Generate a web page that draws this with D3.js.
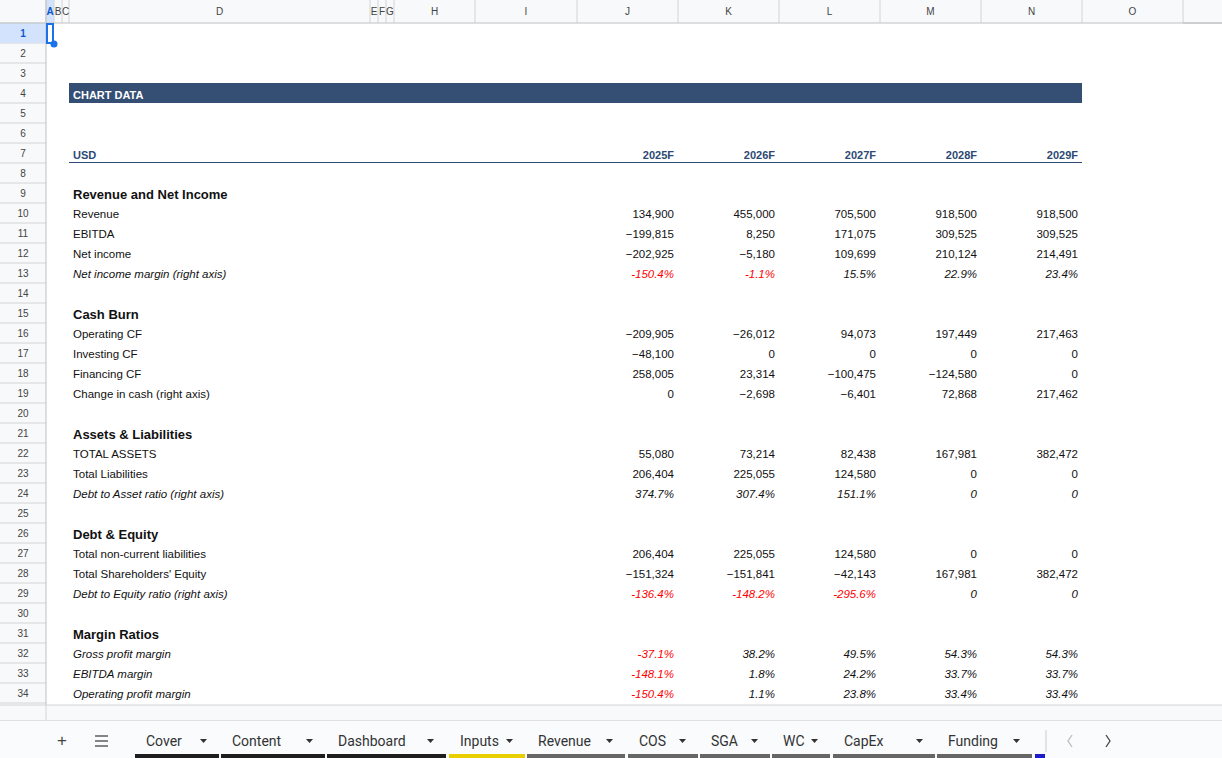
<!DOCTYPE html>
<html><head><meta charset="utf-8">
<script src="https://cdn.jsdelivr.net/npm/d3@7"></script>
<style>body{margin:0;background:#fff;font-family:"Liberation Sans",Arial,sans-serif}</style>
</head><body>
<svg id="s" width="1222" height="758"></svg>
<script>
const years = ["2025F","2026F","2027F","2028F","2029F"];
const colLetters = ["A","B","C","D","E","F","G","H","I","J","K","L","M","N","O"];
const colEdges = [46,54,62,69,370,378,386,394,475,577,678,779,880,981,1082,1183];
// row items: [row, label, values, kind]  kind: h=heading, n=number, p=pct, pi=italic pct
const rows = [
 [9,"Revenue and Net Income",null,"h"],
 [10,"Revenue",[134900,455000,705500,918500,918500],"n"],
 [11,"EBITDA",[-199815,8250,171075,309525,309525],"n"],
 [12,"Net income",[-202925,-5180,109699,210124,214491],"n"],
 [13,"Net income margin (right axis)",[-150.4,-1.1,15.5,22.9,23.4],"pi"],
 [15,"Cash Burn",null,"h"],
 [16,"Operating CF",[-209905,-26012,94073,197449,217463],"n"],
 [17,"Investing CF",[-48100,0,0,0,0],"n"],
 [18,"Financing CF",[258005,23314,-100475,-124580,0],"n"],
 [19,"Change in cash (right axis)",[0,-2698,-6401,72868,217462],"n"],
 [21,"Assets & Liabilities",null,"h"],
 [22,"TOTAL ASSETS",[55080,73214,82438,167981,382472],"n"],
 [23,"Total Liabilities",[206404,225055,124580,0,0],"n"],
 [24,"Debt to Asset ratio (right axis)",[374.7,307.4,151.1,0,0],"pi0"],
 [26,"Debt & Equity",null,"h"],
 [27,"Total non-current liabilities",[206404,225055,124580,0,0],"n"],
 [28,"Total Shareholders' Equity",[-151324,-151841,-42143,167981,382472],"n"],
 [29,"Debt to Equity ratio (right axis)",[-136.4,-148.2,-295.6,0,0],"pi0"],
 [31,"Margin Ratios",null,"h"],
 [32,"Gross profit margin",[-37.1,38.2,49.5,54.3,54.3],"pi"],
 [33,"EBITDA margin",[-148.1,1.8,24.2,33.7,33.7],"pi"],
 [34,"Operating profit margin",[-150.4,1.1,23.8,33.4,33.4],"pi"]
];
const tabs = ["Cover","Content","Dashboard","Inputs","Revenue","COS","SGA","WC","CapEx","Funding"];
const tabColors = ["#1e1e1e","#1e1e1e","#1e1e1e","#e8d000","#666","#666","#666","#666","#666","#666"];

const svg = d3.select("#s");
const y = d3.scaleLinear().domain([1,35]).range([23,703]); // row top
const rowH = 20;
const numFmt = d3.format(",.0f");
const valCols = [9,10,11,12,13];

// column header
svg.append("rect").attr("x",0).attr("y",0).attr("width",1222).attr("height",23).attr("fill","#f8f9fa");
svg.append("rect").attr("x",0).attr("y",0).attr("width",46).attr("height",705).attr("fill","#f8f9fa");
// grid horizontal lines in header column
for(let r=1;r<=35;r++){
  svg.append("line").attr("x1",0).attr("x2",46).attr("y1",y(r)).attr("y2",y(r)).attr("stroke","#d4d4d4");
}
svg.append("rect").attr("x",0).attr("y",y(1)).attr("width",46).attr("height",rowH).attr("fill","#d3e3fd");
svg.append("rect").attr("x",46).attr("y",0).attr("width",8).attr("height",23).attr("fill","#d3e3fd");
colEdges.forEach(x=>svg.append("line").attr("x1",x).attr("x2",x).attr("y1",0).attr("y2",23).attr("stroke","#d4d4d4"));
svg.append("line").attr("x1",1183).attr("x2",1222).attr("y1",23).attr("y2",23).attr("stroke","#c0c0c0");
svg.append("line").attr("x1",0).attr("x2",1222).attr("y1",23).attr("y2",23).attr("stroke","#c0c0c0");
svg.append("line").attr("x1",46).attr("x2",46).attr("y1",0).attr("y2",705).attr("stroke","#c0c0c0");
colLetters.forEach((c,i)=>{
  svg.append("text").attr("x",(colEdges[i]+colEdges[i+1])/2).attr("y",15).attr("text-anchor","middle")
   .attr("font-size",i<7?10:10).attr("font-weight",i==0?"bold":"normal").attr("fill",i==0?"#0b57d0":"#444").text(c);
});
for(let r=1;r<=34;r++){
  svg.append("text").attr("x",23).attr("y",y(r)+14).attr("text-anchor","middle").attr("font-size",10)
   .attr("font-weight",r==1?"bold":"normal").attr("fill",r==1?"#0b57d0":"#444").text(r);
}
// selected cell
svg.append("rect").attr("x",47).attr("y",24).attr("width",6).attr("height",19).attr("fill","none").attr("stroke","#1a73e8").attr("stroke-width",2);
svg.append("circle").attr("cx",54).attr("cy",44).attr("r",3.5).attr("fill","#1a73e8");

// banner
svg.append("rect").attr("x",69).attr("y",y(4)).attr("width",1013).attr("height",rowH).attr("fill","#344f73");
svg.append("text").attr("x",73).attr("y",y(4)+16).attr("fill","#fff").attr("font-size",11).attr("font-weight","bold").text("CHART DATA");
// USD row
svg.append("text").attr("x",73).attr("y",y(7)+16).attr("fill","#2c4a74").attr("font-size",11).attr("font-weight","bold").text("USD");
years.forEach((yr,i)=>svg.append("text").attr("x",colEdges[valCols[i]+1]-4).attr("y",y(7)+16).attr("text-anchor","end")
  .attr("fill","#2c4a74").attr("font-size",11).attr("font-weight","bold").text(yr));
svg.append("line").attr("x1",69).attr("x2",1082).attr("y1",y(8)-0.5).attr("y2",y(8)-0.5).attr("stroke","#2c4a74").attr("stroke-width",1);

rows.forEach(([r,label,vals,kind])=>{
  const ty = y(r)+15;
  const italic = kind.startsWith("pi");
  if(kind==="h"){
    svg.append("text").attr("x",73).attr("y",ty+1).attr("font-size",13).attr("font-weight","bold").attr("fill","#111").text(label);
    return;
  }
  svg.append("text").attr("x",73).attr("y",ty).attr("font-size",11.5).attr("font-style",italic?"italic":"normal").attr("fill","#111").text(label);
  vals.forEach((v,i)=>{
    let t, col="#111";
    if(kind==="n") t=numFmt(v);
    else if(kind==="pi0" && v===0) t="0";
    else { t=v.toFixed(1)+"%"; if(v<0) col="#ff0000"; }
    svg.append("text").attr("x",colEdges[valCols[i]+1]-4).attr("y",ty).attr("text-anchor","end").attr("font-size",11.5)
      .attr("font-style",italic?"italic":"normal").attr("fill",col).text(t);
  });
});

// bottom grey area
svg.append("rect").attr("x",0).attr("y",705).attr("width",1222).attr("height",15).attr("fill","#f8f9fa");
svg.append("line").attr("x1",0).attr("x2",1222).attr("y1",705).attr("y2",705).attr("stroke","#d4d4d4");
svg.append("line").attr("x1",46).attr("x2",46).attr("y1",705).attr("y2",720).attr("stroke","#d4d4d4");
svg.append("rect").attr("x",0).attr("y",720).attr("width",1222).attr("height",38).attr("fill","#f9fbfd");
svg.append("line").attr("x1",0).attr("x2",1222).attr("y1",720.5).attr("y2",720.5).attr("stroke","#e0e0e0");
svg.append("text").attr("x",62).attr("y",746).attr("text-anchor","middle").attr("font-size",17).attr("fill","#444").text("+");
[-5,0,5].forEach(d=>svg.append("line").attr("x1",95).attr("x2",108).attr("y1",741+d).attr("y2",741+d).attr("stroke","#444").attr("stroke-width",1.3));
const tabX = d3.scaleOrdinal().domain(tabs).range([[135,219],[221,325],[327,446],[449,525],[527,625],[628,698],[700,770],[772,830],[833,935],[937,1032]]);
tabs.forEach((t,i)=>{
  const [a,b]=tabX(t);
  svg.append("text").attr("x",a+11).attr("y",746).attr("font-size",14).attr("fill","#333").attr("font-family","Roboto, sans-serif").text(t);
  svg.append("path").attr("d",`M${b-19},739 l7,0 l-3.5,4z`).attr("fill","#333");
  svg.append("rect").attr("x",a).attr("y",754).attr("width",b-a).attr("height",4).attr("fill",tabColors[i]);
});
svg.append("rect").attr("x",1035).attr("y",754).attr("width",10).attr("height",4).attr("fill","#1c1cc8");
svg.append("line").attr("x1",1046).attr("x2",1046).attr("y1",730).attr("y2",752).attr("stroke","#ccc");
svg.append("path").attr("d","M1072,735 l-4,6 l4,6").attr("fill","none").attr("stroke","#bbb").attr("stroke-width",1.3);
svg.append("path").attr("d","M1106,735 l4,6 l-4,6").attr("fill","none").attr("stroke","#444").attr("stroke-width",1.3);
</script>
</body></html>
